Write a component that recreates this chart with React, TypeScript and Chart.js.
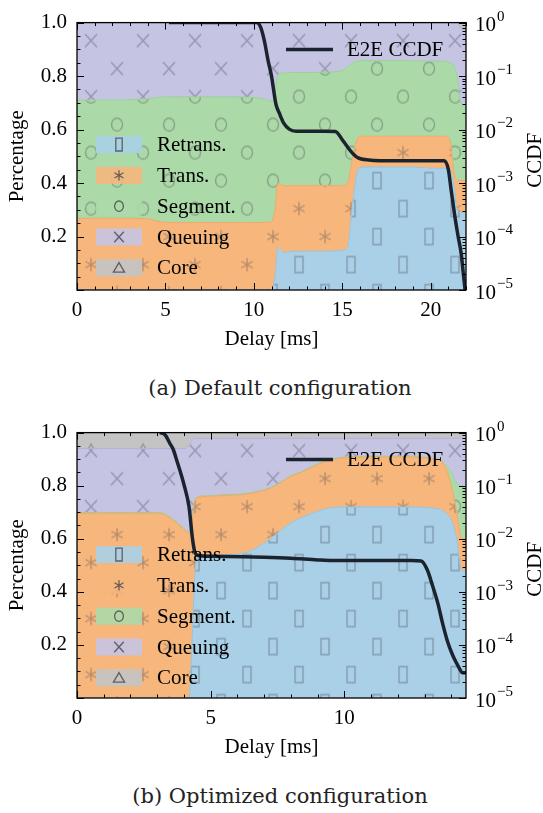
import React, { useEffect, useRef } from 'react';
import { Chart, registerables } from 'chart.js';
Chart.register(...registerables);

// ---------- shared labels / styles ----------
const seriesNames = ['Retrans.', 'Trans.', 'Segment.', 'Queuing', 'Core'];
const seriesColors = ['#a9d0e6', '#f6b67c', '#acd9a8', '#c5c4e3', '#c4c4c4'];
const seriesEdges = ['#97c3dc', '#efa868', '#9ccf97', '#b4b2d8', '#b2b2b2'];
const seriesSymbols = ['rect', 'star', 'circle', 'cross', 'triangle'];
const yTicks = [0.2, 0.4, 0.6, 0.8, 1.0];
const ccdfTicks = [1, 0.1, 0.01, 0.001, 0.0001, 0.00001];
const ccdfExp = ['0', '\u22121', '\u22122', '\u22123', '\u22124', '\u22125'];

// ---------- (a) Default configuration ----------
const xTicksA = [0, 5, 10, 15, 20];
const delayA = [0, 1, 2, 3, 4, 4.4, 5, 6, 7, 8, 9, 10, 10.6, 11.0, 11.2, 11.35, 11.5, 11.7, 12, 13, 14, 15, 15.3, 15.6, 15.9, 16.2, 17, 18, 19, 20, 20.8, 21.1, 21.3, 21.5, 21.7, 22.0];
const retransA = [0, 0, 0, 0, 0, 0, 0, 0, 0, 0, 0, 0, 0, 0, 0.05, 0.16, 0.15, 0.14, 0.143, 0.145, 0.145, 0.148, 0.16, 0.33, 0.45, 0.46, 0.46, 0.46, 0.46, 0.455, 0.455, 0.45, 0.40, 0.30, 0.29, 0.29];
const transA = [0.268, 0.268, 0.268, 0.268, 0.266, 0.260, 0.253, 0.252, 0.252, 0.252, 0.252, 0.252, 0.253, 0.255, 0.25, 0.24, 0.245, 0.25, 0.247, 0.245, 0.245, 0.242, 0.24, 0.17, 0.12, 0.115, 0.115, 0.115, 0.115, 0.12, 0.12, 0.11, 0.05, 0.11, 0.12, 0.12];
const segmentA = [0.442, 0.442, 0.442, 0.444, 0.449, 0.458, 0.469, 0.470, 0.470, 0.470, 0.470, 0.468, 0.462, 0.450, 0.44, 0.40, 0.415, 0.422, 0.423, 0.423, 0.425, 0.43, 0.435, 0.35, 0.287, 0.283, 0.283, 0.283, 0.282, 0.281, 0.28, 0.29, 0.39, 0.39, 0.29, 0.28];
const queuingA = [0.29, 0.29, 0.29, 0.288, 0.285, 0.282, 0.278, 0.278, 0.278, 0.278, 0.278, 0.28, 0.285, 0.295, 0.26, 0.20, 0.19, 0.188, 0.187, 0.187, 0.185, 0.18, 0.165, 0.15, 0.143, 0.142, 0.142, 0.142, 0.143, 0.144, 0.145, 0.15, 0.16, 0.20, 0.28, 0.28];
const coreA = [0, 0, 0, 0, 0, 0, 0, 0, 0, 0, 0, 0, 0, 0, 0, 0, 0, 0, 0, 0, 0, 0, 0, 0, 0, 0, 0, 0, 0, 0, 0, 0, 0, 0, 0.02, 0.03];
const ccdfDelayA = [5.2, 7, 9, 10.16, 10.4, 10.6, 10.8, 11.0, 11.25, 11.45, 11.7, 12.0, 12.4, 13, 14, 14.6, 15.07, 15.47, 15.86, 16.5, 18, 20, 20.75, 21.0, 21.17, 21.36, 21.54, 21.73, 21.85, 21.95];
const ccdfA = [1, 1, 1, 1, 0.8, 0.45, 0.2, 0.1, 0.03, 0.02, 0.013, 0.0102, 0.0093, 0.0093, 0.0093, 0.0092, 0.006, 0.004, 0.003, 0.0027, 0.0026, 0.0026, 0.0026, 0.0018, 0.0007, 0.00025, 0.000107, 0.000047, 0.00002, 0.00001];

// ---------- (b) Optimized configuration ----------
const xTicksB = [0, 5, 10];
const delayB = [0, 1, 2, 3, 3.2, 3.6, 4.0, 4.19, 4.3, 4.4, 4.5, 5, 5.5, 6.2, 6.7, 7.23, 7.6, 8.0, 8.4, 8.8, 9.2, 9.56, 10, 11, 12, 13, 13.3, 13.7, 14.0, 14.2, 14.35, 14.45, 14.55];
const retransB = [0, 0, 0, 0, 0, 0, 0, 0, 0.2, 0.45, 0.535, 0.538, 0.54, 0.545, 0.565, 0.60, 0.63, 0.66, 0.68, 0.696, 0.71, 0.718, 0.72, 0.72, 0.72, 0.718, 0.715, 0.705, 0.67, 0.60, 0.49, 0.48, 0.48];
const transB = [0.696, 0.696, 0.696, 0.696, 0.694, 0.67, 0.635, 0.622, 0.46, 0.29, 0.22, 0.222, 0.223, 0.221, 0.21, 0.19, 0.18, 0.175, 0.17, 0.174, 0.178, 0.179, 0.185, 0.188, 0.188, 0.187, 0.185, 0.18, 0.13, 0.10, 0.12, 0.12, 0.12];
const segmentB = [0.003, 0.003, 0.003, 0.003, 0.003, 0.003, 0.003, 0.003, 0.003, 0.003, 0.003, 0.003, 0.003, 0.003, 0.003, 0.003, 0.003, 0.003, 0.003, 0.003, 0.003, 0.003, 0.003, 0.003, 0.003, 0.003, 0.003, 0.005, 0.05, 0.11, 0.19, 0.19, 0.18];
const queuingB = [0.241, 0.241, 0.241, 0.241, 0.243, 0.267, 0.302, 0.325, 0.309, 0.235, 0.22, 0.215, 0.212, 0.209, 0.20, 0.185, 0.165, 0.14, 0.125, 0.105, 0.087, 0.078, 0.07, 0.067, 0.067, 0.07, 0.075, 0.088, 0.128, 0.168, 0.178, 0.188, 0.198];
const coreB = [0.06, 0.06, 0.06, 0.06, 0.06, 0.06, 0.06, 0.05, 0.028, 0.022, 0.022, 0.022, 0.022, 0.022, 0.022, 0.022, 0.022, 0.022, 0.022, 0.022, 0.022, 0.022, 0.022, 0.022, 0.022, 0.022, 0.022, 0.022, 0.022, 0.022, 0.022, 0.022, 0.022];
const ccdfDelayB = [3.1, 3.3, 3.47, 3.6, 3.73, 3.99, 4.19, 4.32, 4.4, 4.5, 5, 6.2, 7, 8, 9, 9.56, 11, 12.5, 12.87, 13.1, 13.3, 13.5, 13.67, 13.85, 14.04, 14.2, 14.29, 14.41, 14.55];
const ccdfB = [1, 0.9, 0.63, 0.48, 0.3, 0.11, 0.04, 0.01, 0.0058, 0.0049, 0.0047, 0.0046, 0.0045, 0.0043, 0.004, 0.0039, 0.0039, 0.0039, 0.0038, 0.0026, 0.0013, 0.0006, 0.00026, 0.00012, 0.000066, 0.000045, 0.000037, 0.00003, 0.00003];

const FONT = '"Liberation Serif", "Times New Roman", Times, "DejaVu Serif", serif';
const LINE_COLOR = '#1b232e';

function drawSymbol(ctx: any, kind: string, x: number, y: number, s = 1) {
  ctx.beginPath();
  if (kind === 'rect') {
    ctx.rect(x - 4 * s, y - 8 * s, 8 * s, 16 * s);
  } else if (kind === 'star') {
    for (let k = 0; k < 3; k++) {
      const a = Math.PI / 2 + (k * Math.PI) / 3;
      ctx.moveTo(x + Math.cos(a) * 6.5 * s, y + Math.sin(a) * 6.5 * s);
      ctx.lineTo(x - Math.cos(a) * 6.5 * s, y - Math.sin(a) * 6.5 * s);
    }
  } else if (kind === 'circle') {
    ctx.ellipse(x, y, 5.5 * s, 6.5 * s, 0, 0, Math.PI * 2);
  } else if (kind === 'cross') {
    ctx.moveTo(x - 6 * s, y - 6.5 * s);
    ctx.lineTo(x + 6 * s, y + 6.5 * s);
    ctx.moveTo(x + 6 * s, y - 6.5 * s);
    ctx.lineTo(x - 6 * s, y + 6.5 * s);
  } else if (kind === 'triangle') {
    ctx.moveTo(x, y - 6.5 * s);
    ctx.lineTo(x + 7 * s, y + 5.5 * s);
    ctx.lineTo(x - 7 * s, y + 5.5 * s);
    ctx.closePath();
  }
  ctx.stroke();
}

function makePattern(color: string, kind: string) {
  const c = document.createElement('canvas');
  c.width = 52;
  c.height = 56;
  const g = c.getContext('2d') as any;
  g.fillStyle = color;
  g.fillRect(0, 0, 52, 56);
  g.strokeStyle = 'rgba(70,70,85,0.36)';
  g.lineWidth = 1.4;
  drawSymbol(g, kind, 13, 14);
  drawSymbol(g, kind, 39, 42);
  return g.createPattern(c, 'repeat');
}

function makeDecor(xMax: number) {
  return {
    id: 'decor',
    beforeDatasetsDraw(chart: any) {
      const a = chart.chartArea;
      chart.data.datasets.forEach((ds: any) => {
        const p = ds.backgroundColor;
        if (p && typeof p.setTransform === 'function') {
          p.setTransform(new DOMMatrix([1, 0, 0, 1, a.left + 1, a.top + 4]));
        }
      });
    },
    afterDraw(chart: any) {
      const ctx = chart.ctx;
      const a = chart.chartArea;
      const xs = chart.scales.x;
      const ys = chart.scales.y;
      const y2 = chart.scales.y2;
      ctx.save();
      ctx.strokeStyle = '#000';
      ctx.lineWidth = 1;
      for (let v = 0; v <= xMax + 1e-9; v += 1) {
        const px = Math.round(xs.getPixelForValue(v)) + 0.5;
        const len = v % 5 === 0 ? 7 : 3.5;
        ctx.beginPath();
        ctx.moveTo(px, a.bottom);
        ctx.lineTo(px, a.bottom - len);
        ctx.moveTo(px, a.top);
        ctx.lineTo(px, a.top + len);
        ctx.stroke();
      }
      for (let i = 0; i <= 20; i++) {
        const v = i * 0.05;
        const py = Math.round(ys.getPixelForValue(v)) + 0.5;
        const len = i % 4 === 0 ? 7 : 3.5;
        ctx.beginPath();
        ctx.moveTo(a.left, py);
        ctx.lineTo(a.left + len, py);
        ctx.stroke();
      }
      ccdfTicks.forEach((d, i) => {
        const py = Math.round(y2.getPixelForValue(d)) + 0.5;
        ctx.beginPath();
        ctx.moveTo(a.right, py);
        ctx.lineTo(a.right - 7, py);
        ctx.stroke();
        if (i > 0) {
          for (let k = 2; k <= 9; k++) {
            const pm = Math.round(y2.getPixelForValue(d * k)) + 0.5;
            ctx.beginPath();
            ctx.moveTo(a.right, pm);
            ctx.lineTo(a.right - 3.5, pm);
            ctx.stroke();
          }
        }
      });
      ctx.lineWidth = 1.3;
      ctx.strokeRect(a.left, a.top, a.right - a.left, a.bottom - a.top);

      ctx.fillStyle = '#000';
      ctx.textBaseline = 'middle';
      ctx.textAlign = 'left';
      ccdfTicks.forEach((d, i) => {
        const py = y2.getPixelForValue(d);
        ctx.font = `21px ${FONT}`;
        const lx = a.right + 9;
        ctx.fillText('10', lx, py + 3);
        const w = ctx.measureText('10').width;
        ctx.font = `15px ${FONT}`;
        ctx.fillText(ccdfExp[i], lx + w + 1, py - 6);
      });
      ctx.save();
      ctx.font = `21px ${FONT}`;
      ctx.translate(535, (a.top + a.bottom) / 2 + 4);
      ctx.rotate(-Math.PI / 2);
      ctx.textAlign = 'center';
      ctx.textBaseline = 'middle';
      ctx.fillText('CCDF', 0, 0);
      ctx.restore();

      const lx = a.left + 19;
      seriesNames.forEach((name, i) => {
        const cy = a.top + 122 + i * 30.8;
        ctx.globalAlpha = 0.9;
        ctx.fillStyle = seriesColors[i];
        ctx.fillRect(lx, cy - 8.5, 46, 17);
        ctx.globalAlpha = 1;
        ctx.strokeStyle = 'rgba(60,60,70,0.75)';
        ctx.lineWidth = 1.3;
        drawSymbol(ctx, seriesSymbols[i], lx + 23, cy, 0.8);
        ctx.fillStyle = '#000';
        ctx.font = `21px ${FONT}`;
        ctx.textAlign = 'left';
        ctx.textBaseline = 'middle';
        ctx.fillText(name, lx + 61, cy + 1);
      });
      const ly = a.top + 27;
      ctx.strokeStyle = LINE_COLOR;
      ctx.lineWidth = 3.5;
      ctx.beginPath();
      ctx.moveTo(a.left + 209, ly);
      ctx.lineTo(a.left + 256, ly);
      ctx.stroke();
      ctx.fillStyle = '#000';
      ctx.fillText('E2E CCDF', a.left + 270, ly + 1);
      ctx.restore();
    },
  };
}

function buildChart(canvas: HTMLCanvasElement, p: any) {
  const layers = p.layers;
  const datasets: any[] = layers.map((vals: number[], i: number) => ({
    type: 'line',
    label: seriesNames[i],
    data: p.delay.map((x: number, j: number) => ({ x, y: vals[j] })),
    xAxisID: 'x',
    yAxisID: 'y',
    fill: i === 0 ? 'origin' : '-1',
    backgroundColor: makePattern(seriesColors[i], seriesSymbols[i]),
    borderColor: seriesEdges[i],
    borderWidth: 1,
    pointRadius: 0,
    cubicInterpolationMode: 'monotone',
  }));
  datasets.push({
    type: 'line',
    label: 'E2E CCDF',
    data: p.ccdfDelay.map((x: number, j: number) => ({ x, y: p.ccdf[j] })),
    xAxisID: 'x',
    yAxisID: 'y2',
    fill: false,
    borderColor: LINE_COLOR,
    borderWidth: 3.5,
    pointRadius: 0,
    cubicInterpolationMode: 'monotone',
    order: -1,
  });
  const font = { family: FONT, size: 21 };
  return new Chart(canvas, {
    type: 'line',
    data: { datasets },
    options: {
      animation: false,
      responsive: false,
      maintainAspectRatio: false,
      layout: { padding: { top: 14, right: 77, left: 0, bottom: 0 } },
      plugins: { legend: { display: false }, tooltip: { enabled: false } },
      scales: {
        x: {
          type: 'linear',
          min: 0,
          max: p.xMax,
          grid: { display: false, drawTicks: false },
          border: { display: false },
          ticks: { font, color: '#000', padding: 8, maxRotation: 0, autoSkip: false, includeBounds: false, callback: (v: any) => String(v) },
          afterBuildTicks: (s: any) => { s.ticks = p.xTicks.map((v: number) => ({ value: v })); },
          afterFit: (s: any) => { s.height = 70; },
          title: { display: true, text: 'Delay [ms]', font, color: '#000', padding: { top: 0, bottom: 8 } },
        },
        y: {
          type: 'linear',
          min: 0,
          max: 1,
          stacked: true,
          grid: { display: false, drawTicks: false },
          border: { display: false },
          ticks: { font, color: '#000', padding: 10, callback: (v: any) => Number(v).toFixed(1) },
          afterBuildTicks: (s: any) => { s.ticks = yTicks.map((v) => ({ value: v })); },
          afterFit: (s: any) => { s.width = 77; },
          title: { display: true, text: 'Percentage', font, color: '#000', padding: { top: 5, bottom: 0 } },
        },
        y2: {
          type: 'logarithmic',
          position: 'right',
          min: 0.00001,
          max: 1,
          display: false,
        },
      },
    } as any,
    plugins: [makeDecor(p.xMax)],
  } as any);
}

const panelA = {
  delay: delayA,
  layers: [retransA, transA, segmentA, queuingA, coreA],
  ccdfDelay: ccdfDelayA,
  ccdf: ccdfA,
  xMax: 22,
  xTicks: xTicksA,
};
const panelB = {
  delay: delayB,
  layers: [retransB, transB, segmentB, queuingB, coreB],
  ccdfDelay: ccdfDelayB,
  ccdf: ccdfB,
  xMax: 14.55,
  xTicks: xTicksB,
};

const captionStyle = (top: number): React.CSSProperties => ({
  position: 'absolute',
  left: 0,
  top,
  width: 560,
  textAlign: 'center',
  fontFamily: "'DejaVu Serif', serif",
  fontSize: 21,
  lineHeight: '26px',
  color: '#222',
});

export default function App() {
  const refA = useRef<HTMLCanvasElement>(null);
  const refB = useRef<HTMLCanvasElement>(null);
  useEffect(() => {
    let cancelled = false;
    const ca = buildChart(refA.current as HTMLCanvasElement, panelA);
    const cb = buildChart(refB.current as HTMLCanvasElement, panelB);
    const fonts: any = (document as any).fonts;
    if (fonts && fonts.load) {
      Promise.all([fonts.load('21px "Liberation Serif"'), fonts.load('15px "Liberation Serif"')])
        .then(() => {
          if (!cancelled) {
            ca.update();
            cb.update();
          }
        })
        .catch(() => {});
    }
    return () => {
      cancelled = true;
      ca.destroy();
      cb.destroy();
    };
  }, []);
  return (
    <div style={{ position: 'absolute', left: 0, top: 0, width: 543, height: 813, background: '#fff', overflow: 'hidden' }}>
      <canvas ref={refA} width={543} height={360} style={{ position: 'absolute', left: 0, top: 0 }} />
      <div style={captionStyle(375)}>(a) Default configuration</div>
      <canvas ref={refB} width={543} height={358} style={{ position: 'absolute', left: 0, top: 410 }} />
      <div style={captionStyle(783)}>(b) Optimized configuration</div>
    </div>
  );
}
